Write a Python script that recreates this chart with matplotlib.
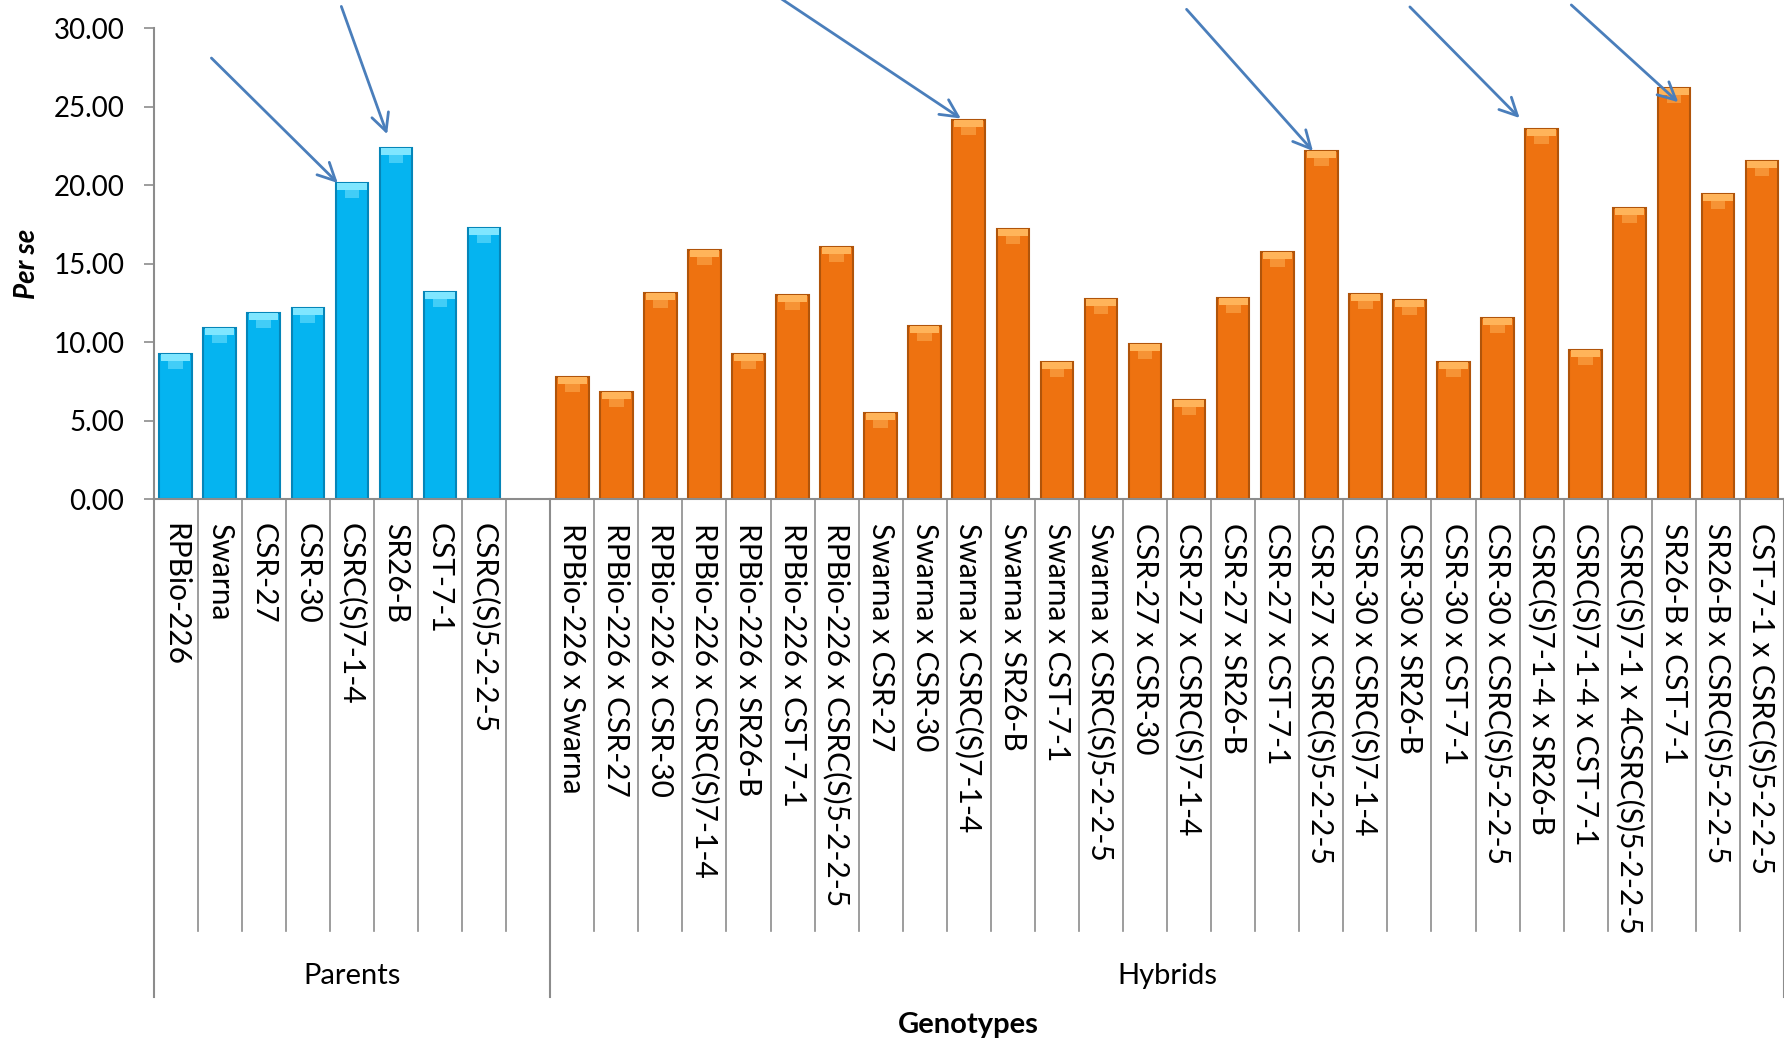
import numpy as np
import matplotlib
matplotlib.use("Agg")
import matplotlib.pyplot as plt

plt.rcParams['font.family'] = ['Lato', 'DejaVu Sans']

parents = ["RPBio-226", "Swarna", "CSR-27", "CSR-30", "CSRC(S)7-1-4",
           "SR26-B", "CST-7-1", "CSRC(S)5-2-2-5"]
parent_vals = [9.24, 10.93, 11.85, 12.17, 20.15, 22.36, 13.23, 17.30]

hybrids = ["RPBio-226 x Swarna", "RPBio-226 x CSR-27", "RPBio-226 x CSR-30",
           "RPBio-226 x CSRC(S)7-1-4", "RPBio-226 x SR26-B", "RPBio-226 x CST-7-1",
           "RPBio-226 x CSRC(S)5-2-2-5", "Swarna x CSR-27", "Swarna x CSR-30",
           "Swarna x CSRC(S)7-1-4", "Swarna x SR26-B", "Swarna x CST-7-1",
           "Swarna x CSRC(S)5-2-2-5", "CSR-27 x CSR-30", "CSR-27 x CSRC(S)7-1-4",
           "CSR-27 x SR26-B", "CSR-27 x CST-7-1", "CSR-27 x CSRC(S)5-2-2-5",
           "CSR-30 x CSRC(S)7-1-4", "CSR-30 x SR26-B", "CSR-30 x CST-7-1",
           "CSR-30 x CSRC(S)5-2-2-5", "CSRC(S)7-1-4 x SR26-B", "CSRC(S)7-1-4 x CST-7-1",
           "CSRC(S)7-1 x 4CSRC(S)5-2-2-5", "SR26-B x CST-7-1", "SR26-B x CSRC(S)5-2-2-5",
           "CST-7-1 x CSRC(S)5-2-2-5"]
hybrid_vals = [7.79, 6.84, 13.14, 15.90, 9.26, 13.01, 16.07, 5.50, 11.04, 24.16,
               17.22, 8.75, 12.76, 9.89, 6.33, 12.82, 15.75, 22.19, 13.08, 12.68,
               8.75, 11.55, 23.59, 9.49, 18.54, 26.20, 19.45, 21.53]

# highlighted genotypes: (name, head dx, head dy, tail offset in points)
arrows = [("CSRC(S)7-1-4", -0.32, 0.0, (-91, 90)),
          ("SR26-B", -0.2, 0.9, (-33, 92)),
          ("Swarna x CSRC(S)7-1-4", -0.18, 0.1, (-132, 88)),
          ("CSR-27 x CSRC(S)5-2-2-5", -0.19, 0.0, (-91, 102)),
          ("CSRC(S)7-1-4 x SR26-B", -0.5, 0.7, (-79, 80)),
          ("SR26-B x CST-7-1", 0.1, -0.9, (-77, 70))]

blue, blue_dk, blue_lt = "#05B4F0", "#0585B8", "#7FE6FF"
orange, orange_dk, orange_lt = "#EE7210", "#B0540A", "#FFB45A"
gray = "#8C8C8C"

fig = plt.figure(figsize=(17.84, 10.39), dpi=100)
ax = fig.add_axes([0.0861, 0.5193, 0.9139, 0.4534])

x_par = np.arange(len(parents))
x_hyb = np.arange(len(hybrids)) + len(parents) + 1
n_slots = len(parents) + 1 + len(hybrids)
w = 0.74

for xs, vals, c, cd, cl in [(x_par, parent_vals, blue, blue_dk, blue_lt),
                            (x_hyb, hybrid_vals, orange, orange_dk, orange_lt)]:
    ax.bar(xs, vals, width=w, color=c, edgecolor=cd, linewidth=1.5, zorder=2)
    ax.bar(xs, 0.45, bottom=np.array(vals) - 0.45, width=w * 0.9,
           color=cl, linewidth=0, zorder=3)
    ax.bar(xs, 0.5, bottom=np.array(vals) - 0.95, width=w * 0.45,
           color=cl, alpha=0.5, linewidth=0, zorder=3)

ax.set_xlim(-0.5, n_slots - 0.5)
ax.set_ylim(0, 30)
ax.set_yticks(np.arange(0, 30.1, 5))
ax.set_yticklabels([f"{v:.2f}" for v in np.arange(0, 30.1, 5)])
ax.tick_params(axis='y', labelsize=20, length=7, width=1.2, color=gray, pad=14)
ax.set_xticks([])
for s in ['top', 'right']:
    ax.spines[s].set_visible(False)
for s in ['left', 'bottom']:
    ax.spines[s].set_color(gray)
    ax.spines[s].set_linewidth(1.5)

ax.set_ylabel("Per se", fontsize=20, fontweight='bold', fontstyle='italic', labelpad=10)

tr = ax.get_xaxis_transform()
# category labels and divider lines
for xs, names in [(x_par, parents), (x_hyb, hybrids)]:
    for xi, name in zip(xs, names):
        ax.text(xi, -0.05, name, rotation=-90, ha='center', va='top',
                fontsize=21.5, transform=tr)
group_edges = [-0.5, len(parents) + 0.5, n_slots - 0.5]
for e in np.arange(-0.5, n_slots):
    y_end = -1.056 if e in group_edges else -0.916
    ax.plot([e, e], [0, y_end], color=gray, lw=1.2 if e not in group_edges else 1.5,
            transform=tr, clip_on=False)

ax.text((group_edges[0] + group_edges[1]) / 2, -1.012, "Parents", ha='center',
        va='center', fontsize=21, transform=tr)
ax.text((group_edges[1] + group_edges[2]) / 2, -1.012, "Hybrids", ha='center',
        va='center', fontsize=21, transform=tr)
ax.text((group_edges[0] + group_edges[2]) / 2, -1.115, "Genotypes", ha='center',
        va='center', fontsize=21, fontweight='bold', transform=tr)

# arrows pointing at the top performers
lookup = dict(zip(parents, zip(x_par, parent_vals)))
lookup.update(dict(zip(hybrids, zip(x_hyb, hybrid_vals))))
for name, hdx, hdy, tail in arrows:
    xi, v = lookup[name]
    ax.annotate('', xy=(xi + hdx, v + hdy), xytext=tail, textcoords='offset points',
                annotation_clip=False, zorder=5,
                arrowprops=dict(arrowstyle='->,head_length=0.9,head_width=0.45',
                                color="#4A7EBB", lw=2, mutation_scale=14,
                                shrinkA=0, shrinkB=0))

fig.savefig("out.png", dpi=100)
